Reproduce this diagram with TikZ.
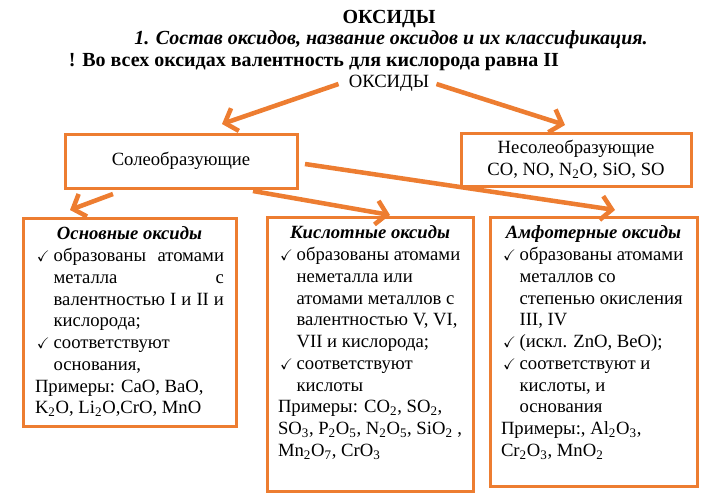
\documentclass[tikz,border=0pt]{standalone}
\usepackage{amssymb}
\usepackage{fontspec}
\setmainfont{Liberation Serif}
\usepackage{tikz}
\usetikzlibrary{arrows.meta,calc,positioning}
\definecolor{orng}{RGB}{237,125,49}
\newcommand{\chk}{\makebox[14pt][l]{\hspace{1.5pt}{\fontsize{11.5}{12}\selectfont$\checkmark$}}}
\newcommand{\gap}{\hspace*{14pt}}
\newcommand{\lo}[1]{\textsubscript{#1}}
\newcommand{\jline}[1]{\makebox[\dimexpr\linewidth-14pt\relax][s]{#1}}
\tikzset{
	box/.style={draw=orng,line width=2.25pt,outer sep=0pt,inner ysep=5pt,anchor=north west,font=\fontsize{14}{16.3}\selectfont},
	arr/.style={draw=orng,line width=3.4pt,-{Straight Barb[length=8pt,width=18pt]}},
	txt/.style={inner sep=0pt,font=\fontsize{14}{16.3}\selectfont},
	head/.style={inner sep=0pt,font=\fontsize{15}{17}\selectfont\bfseries}
}

\begin{document}
\begin{tikzpicture}[x=0.75pt,y=-0.75pt]
	\useasboundingbox (0,0) rectangle (727,497);

	\node[head] (title) at (389,19) {ОКСИДЫ};
	\node[head,font=\fontsize{15}{17}\selectfont\bfseries\itshape] (sub) at (391,40) {1. Состав оксидов, название оксидов и их классификация.};
	\node[head] (note) at (314,62) {! Во всех оксидах валентность для кислорода равна II};
	\node[txt] (ox) at (389,83) {ОКСИДЫ};

	\node[box,minimum width=174pt,minimum height=40.5pt] (sol) at (65,134) {Солеобразующие};
	\node[box,minimum width=172.5pt,minimum height=39.75pt,align=center] (nsol) at (461,133) {Несолеобразующие\\CO, NO, N\lo2O, SiO, SO};

	\node[box,inner xsep=9pt] (osn) at (23,218) {\parbox[c][146pt][t]{141.75pt}{\raggedright\strut\makebox[\linewidth][c]{\bfseries\itshape Основные оксиды}\\
		\chk\jline{образованы атомами}\\
		\gap металла\hfill с\\
		\gap\jline{валентностью I и II и}\\
		\gap кислорода;\\
		\chk соответствуют\\
		\gap основания,\\
		Примеры: CaO, BaO,\\
		K\lo2O, Li\lo2O,CrO, MnO}};

	\node[box,inner xsep=8.25pt] (kis) at (267,217) {\parbox[c][195.5pt][t]{138pt}{\raggedright\strut\makebox[\linewidth][c]{\bfseries\itshape Кислотные оксиды}\\
		\chk образованы атомами\\
		\gap неметалла или\\
		\gap атомами металлов с\\
		\gap валентностью V, VI,\\
		\gap VII и кислорода;\\
		\chk соответствуют\\
		\gap кислоты\\
		Примеры: CO\lo2, SO\lo2,\\
		SO\lo3, P\lo2O\lo5, N\lo2O\lo5, SiO\lo2 ,\\
		Mn\lo2O\lo7, CrO\lo3}};

	\node[box,inner xsep=8.25pt] (amf) at (490,217) {\parbox[c][191.75pt][t]{138.75pt}{\raggedright\strut\makebox[\linewidth][c]{\bfseries\itshape Амфотерные оксиды}\\
		\chk образованы атомами\\
		\gap металлов со\\
		\gap степенью окисления\\
		\gap III, IV\\
		\chk (искл. ZnO, BeO);\\
		\chk соответствуют и\\
		\gap кислоты, и\\
		\gap основания\\
		Примеры:, Al\lo2O\lo3,\\
		Cr\lo2O\lo3, MnO\lo2}};

	\draw[arr] ($(ox.west)+(-10,1)$) -- ($(sol.north)+(41,-10)$);
	\draw[arr] ($(ox.east)+(7,1)$) -- ($(nsol.north)+(-11,-8)$);
	\draw[arr] ($(sol.south)+(-68,6)$) -- ($(osn.north)+(-59.5,-8)$);
	\draw[arr] ($(sol.south)+(72,3)$) -- ($(kis.north)+(20,-2)$);
	\draw[arr] ($(sol.east)+(8,3)$) -- ($(amf.north)+(21.5,-7)$);
\end{tikzpicture}
\end{document}
